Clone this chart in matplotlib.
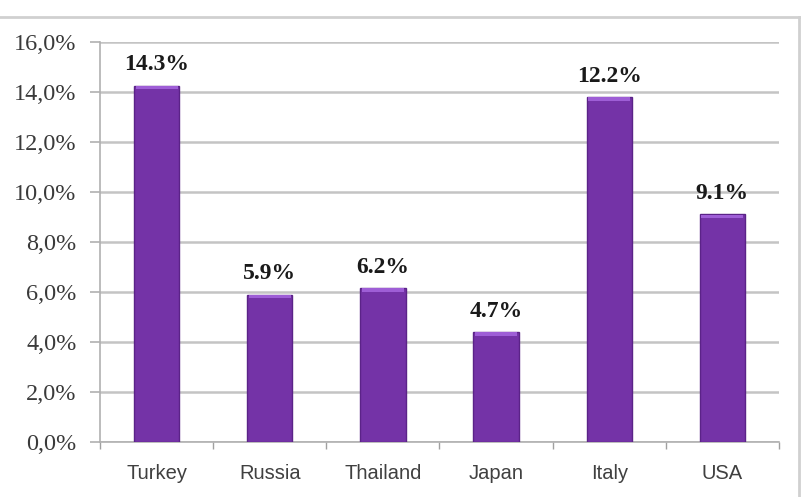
import matplotlib
matplotlib.use("Agg")
import matplotlib.pyplot as plt
from matplotlib.lines import Line2D
import numpy as np

categories = ["Turkey", "Russia", "Thailand", "Japan", "Italy", "USA"]
values = [14.25, 5.9, 6.15, 4.4, 13.8, 9.1]
value_labels = ["14.3%", "5.9%", "6.2%", "4.7%", "12.2%", "9.1%"]
yticks = [0, 2, 4, 6, 8, 10, 12, 14, 16]
ytick_labels = ["0,0%", "2,0%", "4,0%", "6,0%", "8,0%", "10,0%", "12,0%", "14,0%", "16,0%"]

fig = plt.figure(figsize=(8.02, 4.97), dpi=100)
ax = fig.add_axes([100/802, 55/497, 679/802, 400/497])

x = np.arange(len(categories))
vals = np.array(values)
ax.bar(x, vals, width=0.4, color="#7433A7", edgecolor="#5B2388", linewidth=1.0, zorder=3)
cap = 0.15
ax.bar(x, np.full_like(vals, cap), bottom=vals - cap, width=0.37, color="#9E5ED6",
       linewidth=0, zorder=4)

for xi, v, lab in zip(x, vals, value_labels):
    ax.annotate(lab, (xi, v), xytext=(0, 15), textcoords="offset points",
                ha="center", va="center", family="Liberation Serif",
                fontweight="bold", fontsize=17, color="#1a1a1a")

ax.set_ylim(0, 16)
ax.set_xlim(-0.5, len(categories) - 0.5)
ax.set_yticks(yticks)
ax.set_yticklabels(ytick_labels, family="Liberation Serif", fontsize=17.5, color="#3a3a3a")
ax.yaxis.grid(True, color="#c4c4c4", linewidth=1.8, zorder=0)
ax.set_axisbelow(True)

ax.set_xticks(x)
ax.set_xticklabels(categories, family="Liberation Sans", fontsize=14.5, color="#404040")
ax.set_xticks(np.arange(-0.5, len(categories)), minor=True)
ax.tick_params(axis="x", which="major", length=0, pad=16)
ax.tick_params(axis="x", which="minor", length=5, color="#a0a0a0", width=1)
ax.tick_params(axis="y", length=7, color="#b0b0b0", width=1.2, pad=10)

for s in ["top", "right"]:
    ax.spines[s].set_visible(False)
ax.spines["left"].set_color("#b0b0b0")
ax.spines["bottom"].set_color("#b0b0b0")
ax.spines["left"].set_linewidth(1.2)
ax.spines["bottom"].set_linewidth(1.2)

# outer chart border
fig.add_artist(Line2D([0, 799/802], [1 - 17/497, 1 - 17/497], color="#d0d0d0", linewidth=2,
                      transform=fig.transFigure))
fig.add_artist(Line2D([799/802, 799/802], [0, 1 - 17/497], color="#d0d0d0", linewidth=2,
                      transform=fig.transFigure))

fig.savefig("out.png", dpi=100)
